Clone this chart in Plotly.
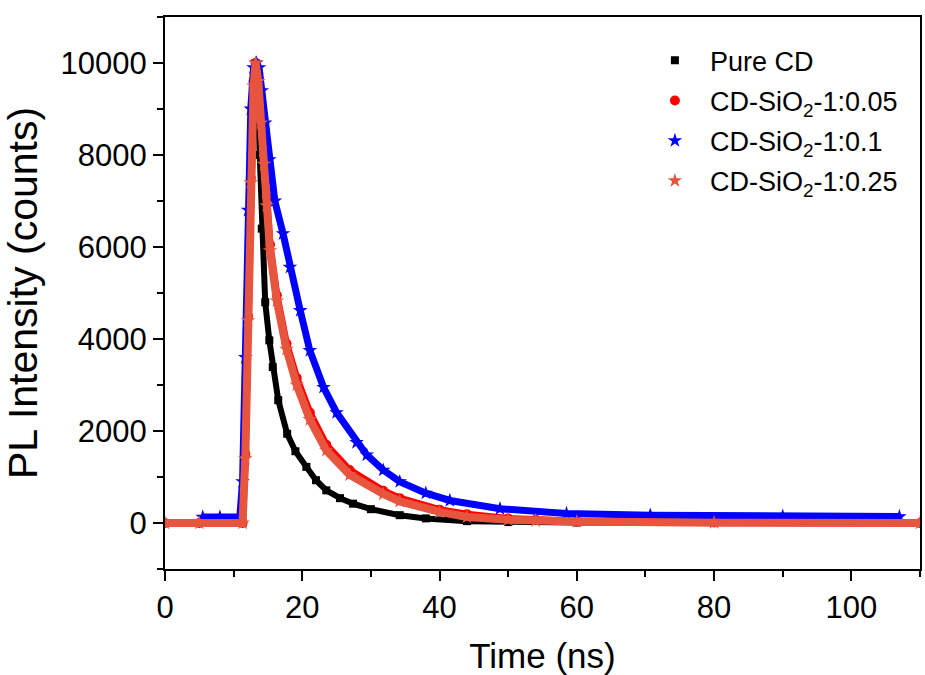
import plotly.graph_objects as go

# Time (ns) and PL intensity (counts)
t_pure = [0, 5, 11.3, 11.7, 12.1, 12.5, 12.9, 13.2, 13.5, 13.8, 14.1, 14.6, 15.2, 15.7, 16.5,
          17.8, 19.0, 20.6, 22.0, 23.5, 25.5, 27.4, 30.0, 34.2, 38.0, 44.0, 50.0, 60.0, 80.0, 110.0]
i_pure = [0, 0, 0, 1500, 4500, 7500, 9600, 10000, 9300, 8000, 6400, 4800, 3970, 3390, 2670,
          1940, 1560, 1220, 930, 710, 540, 420, 300, 170, 100, 40, 20, 10, 5, 0]

t_005 = [0, 5, 11.3, 11.7, 12.1, 12.5, 12.9, 13.2, 13.6, 14.0, 14.4, 14.8, 15.3, 16.3, 17.7,
         19.2, 21.1, 23.5, 26.9, 31.8, 34.2, 40.0, 44.0, 50.0, 54.0, 60.0, 80.0, 110.0]
i_005 = [0, 0, 0, 1500, 4500, 7500, 9600, 10000, 9700, 8900, 8000, 7100, 6050, 4950, 3900,
         3150, 2400, 1700, 1150, 700, 540, 290, 190, 100, 70, 40, 10, 0]

t_01 = [5.5, 8.0, 10.9, 11.3, 11.7, 12.1, 12.5, 12.9, 13.3, 13.7, 14.1, 14.6, 15.2, 16.0, 17.2,
        18.2, 19.7, 21.1, 23.1, 25.0, 27.9, 29.4, 31.8, 34.2, 38.0, 41.5, 48.8, 58.5, 70.7, 90.0, 107.0]
i_01 = [130, 130, 130, 900, 3600, 6800, 9000, 9900, 10000, 9900, 9400, 8700, 7900, 7000, 6290,
        5560, 4620, 3750, 2950, 2400, 1750, 1480, 1150, 900, 650, 490, 310, 205, 170, 150, 140]

t_025 = [0, 5, 11.3, 11.7, 12.1, 12.5, 12.9, 13.2, 13.6, 14.0, 14.4, 14.8, 15.3, 16.3, 17.7,
         19.2, 21.1, 23.5, 26.9, 31.8, 34.2, 40.0, 44.0, 50.0, 54.0, 60.0, 80.0, 110.0]
i_025 = [0, 0, 0, 1400, 4400, 7400, 9500, 10000, 9600, 8700, 7800, 6900, 5920, 4830, 3780,
         3000, 2250, 1580, 1050, 630, 470, 240, 130, 70, 50, 30, 8, 0]

names = ["Pure CD", "CD-SiO<sub>2</sub>-1:0.05", "CD-SiO<sub>2</sub>-1:0.1", "CD-SiO<sub>2</sub>-1:0.25"]
colors = ["#000000", "#FF0000", "#0000FF", "#E8553E"]
symbols = ["square", "circle", "star", "star"]
widths = [6, 7, 7, 8]
msizes = [8, 10, 11, 11]
series = [(t_pure, i_pure), (t_005, i_005), (t_01, i_01), (t_025, i_025)]

fig = go.Figure()
for k, ((t, y), nm, c, s, w, ms) in enumerate(zip(series, names, colors, symbols, widths, msizes)):
    fig.add_trace(go.Scatter(x=t, y=y, mode="lines", line=dict(color=c, width=w),
                             showlegend=False, hoverinfo="skip"))
    fig.add_trace(go.Scatter(x=t, y=y, mode="markers", name=nm, legendgroup=f"g{k}",
                             marker=dict(color=c, symbol=s, size=ms, line=dict(width=0))))

font = "Liberation Sans, Arial, sans-serif"
axis_common = dict(showline=True, linewidth=2, linecolor="black", mirror=True,
                   ticks="outside", ticklen=10, tickwidth=2, tickcolor="black",
                   showgrid=False, zeroline=False, automargin=False,
                   tickfont=dict(family=font, size=31, color="black"))

fig.update_layout(
    width=925, height=675,
    margin=dict(l=165, r=5, t=17, b=106),
    paper_bgcolor="white", plot_bgcolor="white",
    font=dict(family=font, color="black"),
    xaxis=dict(range=[0, 110], tick0=0, dtick=20, tickformat="d",
               minor=dict(dtick=10, ticklen=6, tickwidth=2, tickcolor="black", ticks="outside"),
               title=dict(text="Time (ns)", font=dict(family=font, size=35), standoff=22),
               **axis_common),
    yaxis=dict(range=[-1000, 11000], tick0=0, dtick=2000, tickformat="d",
               minor=dict(dtick=1000, ticklen=6, tickwidth=2, tickcolor="black", ticks="outside"),
               title=dict(text="PL Intensity (counts)", font=dict(family=font, size=41), standoff=16),
               **axis_common),
    legend=dict(x=0.629, y=0.965, xanchor="left", yanchor="top",
                bgcolor="rgba(0,0,0,0)", font=dict(family=font, size=27, color="black"),
                itemwidth=60, tracegroupgap=2),
)

fig.write_html("out.html", config={"displayModeBar": False},
               post_script="document.body.style.margin='0';document.body.style.overflow='hidden';")
